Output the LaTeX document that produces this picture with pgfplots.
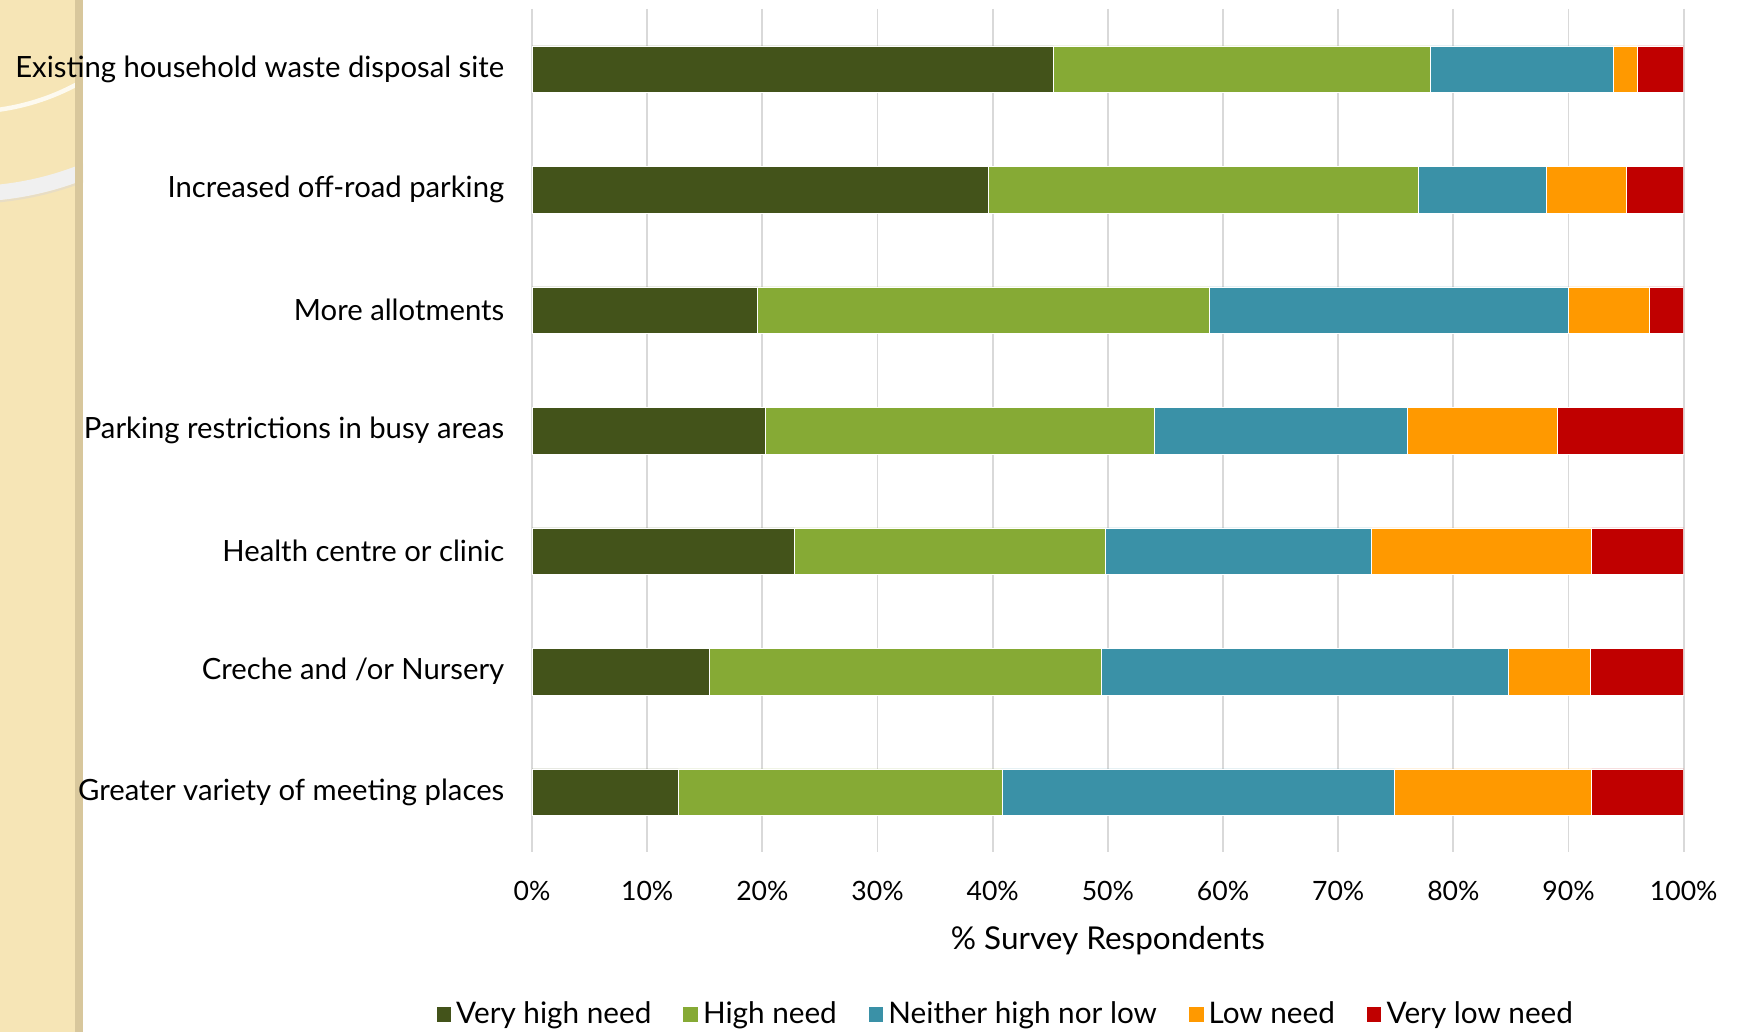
\documentclass[border=0pt]{standalone}
\usepackage{pgfplots}
\pgfplotsset{compat=1.18}
\usepackage{fontspec}
\setmainfont{Lato}

\definecolor{vhigh}{HTML}{43531A}
\definecolor{high}{HTML}{86AA35}
\definecolor{neither}{HTML}{3A91A7}
\definecolor{low}{HTML}{FF9900}
\definecolor{vlow}{HTML}{C00000}
\definecolor{paper}{HTML}{F6E5B6}
\definecolor{paperedge}{HTML}{D8C79C}

\begin{document}
\begin{tikzpicture}
\useasboundingbox (0,0) rectangle (784pt,465.5pt);
% decorative strip on the left
\begin{scope}
  \clip (0,0) rectangle (37.5pt,465.5pt);
  \fill[paper] (0,0) rectangle (37.5pt,465.5pt);
  \draw[white!80!paper, line width=2pt] (-15pt,520pt) circle (105pt);
  \draw[paperedge!60!white, line width=1pt] (-15pt,520pt) circle (146pt);
  \draw[white!70!gray!40, line width=7pt] (-15pt,520pt) circle (142pt);
  \fill[paperedge] (34pt,0) rectangle (37.5pt,465.5pt);
\end{scope}
\begin{axis}[
    at={(240pt,81pt)}, anchor=south west,
    scale only axis,
    width=519.5pt, height=380.5pt,
    xbar stacked,
    bar width=0.386,
    xmin=0, xmax=100,
    ymin=-0.5, ymax=6.5,
    y dir=reverse,
    axis line style={draw=none},
    tick style={draw=none},
    xmajorgrids,
    major grid style={gray!30, line width=0.8pt},
    xtick={0,10,...,100},
    xticklabel={\pgfmathprintnumber{\tick}\%},
    /pgf/number format/assume math mode=true,
    ytick={0,...,6},
    yticklabels={Existing household waste disposal site,
                 Increased off-road parking,
                 More allotments,
                 Parking restrictions in busy areas,
                 Health centre or clinic,
                 Creche and /or Nursery,
                 Greater variety of meeting places},
    yticklabel style={font=\fontsize{13.2}{15}\selectfont, xshift=-9pt},
    xticklabel style={font=\fontsize{12}{14}\selectfont, yshift=-9.5pt},
    xlabel={\% Survey Respondents},
    xlabel style={font=\fontsize{14.2}{16}\selectfont, at={(axis description cs:0.5,-0.104)}, anchor=center},
    legend style={at={(0.412,-0.192)}, anchor=center, legend columns=-1, draw=none,
        font=\fontsize{13.4}{15}\selectfont,
        /tikz/every even column/.append style={column sep=12pt}},
    legend image code/.code={\fill[#1] (0pt,-3.5pt) rectangle (7pt,3.5pt);},
]
\addplot[fill=vhigh, draw=white, line width=0.3pt] coordinates {(45.3,0) (39.6,1) (19.6,2) (20.3,3) (22.8,4) (15.4,5) (12.7,6)};
\addplot[fill=high, draw=white, line width=0.3pt] coordinates {(32.7,0) (37.4,1) (39.2,2) (33.7,3) (27.0,4) (34.0,5) (28.1,6)};
\addplot[fill=neither, draw=white, line width=0.3pt] coordinates {(15.9,0) (11.1,1) (31.2,2) (22.0,3) (23.1,4) (35.4,5) (34.1,6)};
\addplot[fill=low, draw=white, line width=0.3pt] coordinates {(2.1,0) (6.9,1) (7.0,2) (13.0,3) (19.1,4) (7.1,5) (17.1,6)};
\addplot[fill=vlow, draw=white, line width=0.3pt] coordinates {(4.0,0) (5.0,1) (3.0,2) (11.0,3) (8.0,4) (8.1,5) (8.0,6)};
\legend{Very high need, High need, Neither high nor low, Low need, Very low need}
\end{axis}
\end{tikzpicture}
\end{document}
